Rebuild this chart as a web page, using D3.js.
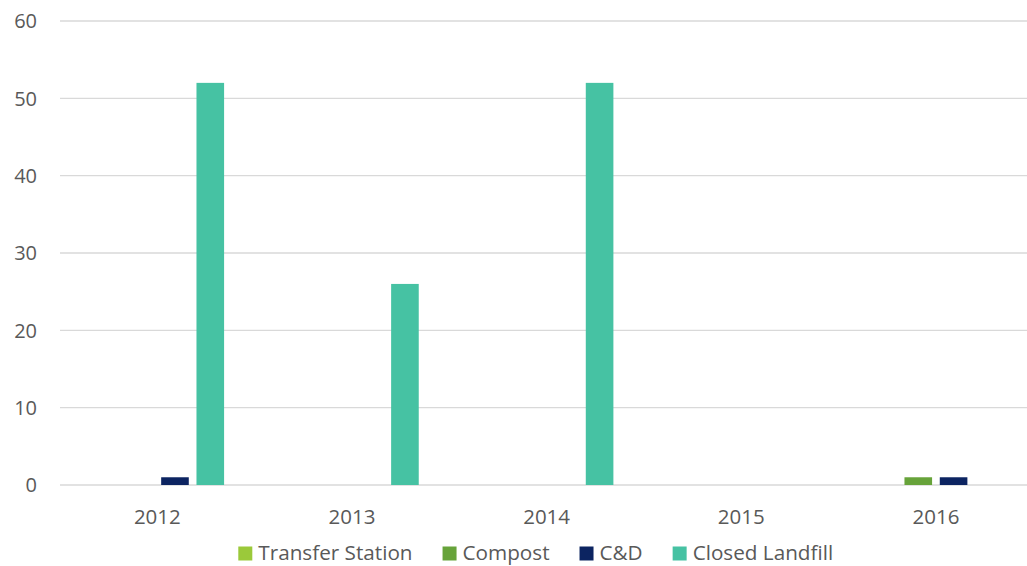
<!DOCTYPE html>
<html>
<head>
<meta charset="utf-8">
<script src="https://cdn.jsdelivr.net/npm/d3@7/dist/d3.min.js"></script>
<style>
  html, body { margin: 0; padding: 0; background: #fff; }
  svg { display: block; font-family: "Open Sans", sans-serif; }
</style>
</head>
<body>
<svg id="chart" width="1027" height="566"></svg>
<script>
// Years on the category axis
const years = ["2012", "2013", "2014", "2015", "2016"];

// Series names and their values per year
const seriesNames = ["Transfer Station", "Compost", "C&D", "Closed Landfill"];
const transferStation = [0, 0, 0, 0, 0];
const compost = [0, 0, 0, 0, 1];
const cAndD = [1, 0, 0, 0, 1];
const closedLandfill = [52, 26, 52, 0, 0];

// Value-axis ticks
const yTicks = [0, 10, 20, 30, 40, 50, 60];

const seriesValues = [transferStation, compost, cAndD, closedLandfill];
const colors = ["#9BC93A", "#67A33A", "#0C2461", "#46C2A3"];

const svg = d3.select("#chart");
const textColor = "#595959";

const x0 = d3.scaleBand()
  .domain(years)
  .range([60, 1033.25])
  .paddingInner(0.314)
  .paddingOuter(0.157);

const x1 = d3.scaleBand()
  .domain(seriesNames)
  .range([0, x0.bandwidth()])
  .paddingInner(0.218)
  .paddingOuter(0);

const y = d3.scaleLinear().domain([0, 60]).range([485, 21]);

// Gridlines
svg.append("g")
  .selectAll("line")
  .data(yTicks)
  .join("line")
  .attr("x1", 60)
  .attr("x2", 1033)
  .attr("y1", d => y(d))
  .attr("y2", d => y(d))
  .attr("stroke", "#d9d9d9")
  .attr("stroke-width", 1.3);

// Y tick labels
svg.append("g")
  .selectAll("text")
  .data(yTicks)
  .join("text")
  .attr("x", 37)
  .attr("y", d => y(d))
  .attr("dy", "0.36em")
  .attr("text-anchor", "end")
  .attr("fill", textColor)
  .style("font-size", "20px")
  .text(d => d);

// Bars
const groups = svg.append("g")
  .selectAll("g")
  .data(years)
  .join("g")
  .attr("transform", d => `translate(${x0(d)},0)`);

groups.selectAll("rect")
  .data((yr, i) => seriesNames.map((s, k) => ({ s, k, v: seriesValues[k][i] })))
  .join("rect")
  .attr("x", d => x1(d.s))
  .attr("width", x1.bandwidth())
  .attr("y", d => y(d.v))
  .attr("height", d => y(0) - y(d.v))
  .attr("fill", d => colors[d.k]);

// X labels
svg.append("g")
  .selectAll("text")
  .data(years)
  .join("text")
  .attr("x", d => x0(d) + x0.bandwidth() / 2)
  .attr("y", 524)
  .attr("text-anchor", "middle")
  .attr("fill", textColor)
  .style("font-size", "20.5px")
  .text(d => d);

// Legend
const legend = svg.append("g");
let lx = 238.3;
seriesNames.forEach((name, k) => {
  legend.append("rect")
    .attr("x", lx)
    .attr("y", 546.5)
    .attr("width", 14)
    .attr("height", 14)
    .attr("fill", colors[k]);
  const t = legend.append("text")
    .attr("x", lx + 20)
    .attr("y", 560.3)
    .attr("fill", textColor)
    .style("font-size", "20.7px")
    .text(name);
  lx += 20 + t.node().getComputedTextLength() + 30;
});
</script>
</body>
</html>
